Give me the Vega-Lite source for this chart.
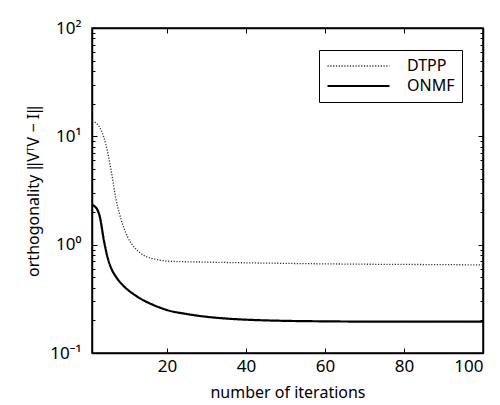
{
  "$schema": "https://vega.github.io/schema/vega-lite/v6.json",
  "width": 391,
  "height": 325,
  "autosize": "none",
  "padding": {"left": 92, "top": 28, "right": 17, "bottom": 52},
  "background": "white",
  "config": {
    "font": "Noto Sans",
    "view": {"stroke": "black", "strokeWidth": 1.5},
    "axis": {
      "domainColor": "black",
      "domainWidth": 1.5,
      "tickColor": "black",
      "tickWidth": 1,
      "grid": false,
      "labelColor": "black",
      "titleColor": "black",
      "labelFontSize": 17,
      "titleFontSize": 16,
      "titleFontWeight": "normal",
      "labelFont": "Noto Sans",
      "titleFont": "Noto Sans"
    }
  },
  "data": {
    "values": [
      {"iter": 1, "method": "DTPP", "value": 13.8},
      {"iter": 2, "method": "DTPP", "value": 13.3},
      {"iter": 3, "method": "DTPP", "value": 12.0},
      {"iter": 4, "method": "DTPP", "value": 9.8},
      {"iter": 5, "method": "DTPP", "value": 7.0},
      {"iter": 6, "method": "DTPP", "value": 4.5},
      {"iter": 7, "method": "DTPP", "value": 2.7},
      {"iter": 8, "method": "DTPP", "value": 1.9},
      {"iter": 9, "method": "DTPP", "value": 1.45},
      {"iter": 10, "method": "DTPP", "value": 1.18},
      {"iter": 11, "method": "DTPP", "value": 1.02},
      {"iter": 12, "method": "DTPP", "value": 0.92},
      {"iter": 13, "method": "DTPP", "value": 0.85},
      {"iter": 14, "method": "DTPP", "value": 0.8},
      {"iter": 15, "method": "DTPP", "value": 0.77},
      {"iter": 16, "method": "DTPP", "value": 0.75},
      {"iter": 17, "method": "DTPP", "value": 0.735},
      {"iter": 18, "method": "DTPP", "value": 0.722},
      {"iter": 19, "method": "DTPP", "value": 0.712},
      {"iter": 20, "method": "DTPP", "value": 0.705},
      {"iter": 25, "method": "DTPP", "value": 0.695},
      {"iter": 30, "method": "DTPP", "value": 0.69},
      {"iter": 35, "method": "DTPP", "value": 0.685},
      {"iter": 40, "method": "DTPP", "value": 0.68},
      {"iter": 50, "method": "DTPP", "value": 0.672},
      {"iter": 60, "method": "DTPP", "value": 0.665},
      {"iter": 70, "method": "DTPP", "value": 0.66},
      {"iter": 80, "method": "DTPP", "value": 0.657},
      {"iter": 90, "method": "DTPP", "value": 0.654},
      {"iter": 100, "method": "DTPP", "value": 0.65},
      {"iter": 1, "method": "ONMF", "value": 2.32},
      {"iter": 2, "method": "ONMF", "value": 2.2},
      {"iter": 3, "method": "ONMF", "value": 1.8},
      {"iter": 4, "method": "ONMF", "value": 1.1},
      {"iter": 5, "method": "ONMF", "value": 0.75},
      {"iter": 6, "method": "ONMF", "value": 0.59},
      {"iter": 7, "method": "ONMF", "value": 0.51},
      {"iter": 8, "method": "ONMF", "value": 0.455},
      {"iter": 9, "method": "ONMF", "value": 0.415},
      {"iter": 10, "method": "ONMF", "value": 0.385},
      {"iter": 11, "method": "ONMF", "value": 0.36},
      {"iter": 12, "method": "ONMF", "value": 0.34},
      {"iter": 13, "method": "ONMF", "value": 0.322},
      {"iter": 14, "method": "ONMF", "value": 0.307},
      {"iter": 15, "method": "ONMF", "value": 0.294},
      {"iter": 16, "method": "ONMF", "value": 0.283},
      {"iter": 17, "method": "ONMF", "value": 0.273},
      {"iter": 18, "method": "ONMF", "value": 0.264},
      {"iter": 19, "method": "ONMF", "value": 0.256},
      {"iter": 20, "method": "ONMF", "value": 0.249},
      {"iter": 25, "method": "ONMF", "value": 0.229},
      {"iter": 30, "method": "ONMF", "value": 0.216},
      {"iter": 35, "method": "ONMF", "value": 0.208},
      {"iter": 40, "method": "ONMF", "value": 0.203},
      {"iter": 45, "method": "ONMF", "value": 0.2},
      {"iter": 50, "method": "ONMF", "value": 0.198},
      {"iter": 60, "method": "ONMF", "value": 0.196},
      {"iter": 70, "method": "ONMF", "value": 0.195},
      {"iter": 80, "method": "ONMF", "value": 0.195},
      {"iter": 90, "method": "ONMF", "value": 0.195},
      {"iter": 100, "method": "ONMF", "value": 0.195}
    ]
  },
  "resolve": {"axis": {"x": "independent", "y": "independent"}},
  "layer": [
    {
      "mark": {"type": "line", "interpolate": "monotone", "clip": true},
      "encoding": {
        "x": {
          "field": "iter", "type": "quantitative",
          "scale": {"domain": [1, 100], "nice": false, "zero": false},
          "axis": {"orient": "bottom", "values": [20, 40, 60, 80, 100], "tickSize": -5, "labelPadding": 10, "title": "number of iterations", "titlePadding": 10}
        },
        "y": {
          "field": "value", "type": "quantitative",
          "scale": {"type": "log", "domain": [0.1, 100], "nice": false},
          "axis": {
            "orient": "left", "values": [0.1, 1, 10, 100], "tickSize": -5, "labelPadding": 16,
            "labelExpr": "datum.value > 50 ? '10²' : datum.value > 5 ? '10¹' : datum.value > 0.5 ? '10⁰' : '10⁻¹'",
            "title": "orthogonality ‖VᵀV − I‖", "titlePadding": 8
          }
        },
        "color": {
          "field": "method", "type": "nominal",
          "scale": {"domain": ["DTPP", "ONMF"], "range": ["#333333", "#000000"]},
          "legend": {
            "orient": "none",
            "legendX": 227,
            "legendY": 22,
            "title": null,
            "strokeColor": "black",
            "fillColor": "white",
            "padding": 7,
            "symbolType": "stroke",
            "symbolSize": 3844,
            "symbolStrokeWidth": 1.2,
            "clipHeight": 18,
            "labelFontSize": 16,
            "labelColor": "black",
            "labelOffset": 16,
            "rowPadding": 2
          }
        },
        "strokeDash": {
          "field": "method", "type": "nominal",
          "scale": {"domain": ["DTPP", "ONMF"], "range": [[1.2, 1.6], [1, 0]]},
          "legend": {
            "orient": "none",
            "legendX": 227,
            "legendY": 22,
            "title": null,
            "strokeColor": "black",
            "fillColor": "white",
            "padding": 7,
            "symbolType": "stroke",
            "symbolSize": 3844,
            "symbolStrokeWidth": 1.2,
            "clipHeight": 18,
            "labelFontSize": 16,
            "labelColor": "black",
            "labelOffset": 16,
            "rowPadding": 2
          }
        },
        "strokeWidth": {
          "field": "method", "type": "nominal",
          "scale": {"domain": ["DTPP", "ONMF"], "range": [1.3, 2.2]},
          "legend": null
        }
      }
    },
    {
      "mark": {"type": "line", "opacity": 0},
      "encoding": {
        "x": {
          "field": "iter", "type": "quantitative",
          "axis": {"orient": "top", "values": [20, 40, 60, 80, 100], "tickSize": -5, "labels": false, "title": null}
        },
        "y": {
          "field": "value", "type": "quantitative",
          "axis": {"orient": "right", "values": [0.1, 1, 10, 100], "tickSize": -5, "labels": false, "title": null}
        },
        "detail": {"field": "method"}
      }
    },
    {
      "mark": {"type": "line", "opacity": 0},
      "encoding": {
        "x": {"field": "iter", "type": "quantitative", "axis": null},
        "y": {
          "field": "value", "type": "quantitative",
          "axis": {"orient": "left", "values": [0.2, 0.3, 0.4, 0.5, 0.6, 0.7, 0.8, 0.9, 2, 3, 4, 5, 6, 7, 8, 9, 20, 30, 40, 50, 60, 70, 80, 90], "tickSize": -3, "labels": false, "domain": false, "title": null}
        },
        "detail": {"field": "method"}
      }
    },
    {
      "mark": {"type": "line", "opacity": 0},
      "encoding": {
        "x": {"field": "iter", "type": "quantitative", "axis": null},
        "y": {
          "field": "value", "type": "quantitative",
          "axis": {"orient": "right", "values": [0.2, 0.3, 0.4, 0.5, 0.6, 0.7, 0.8, 0.9, 2, 3, 4, 5, 6, 7, 8, 9, 20, 30, 40, 50, 60, 70, 80, 90], "tickSize": -3, "labels": false, "domain": false, "title": null}
        },
        "detail": {"field": "method"}
      }
    }
  ]
}
